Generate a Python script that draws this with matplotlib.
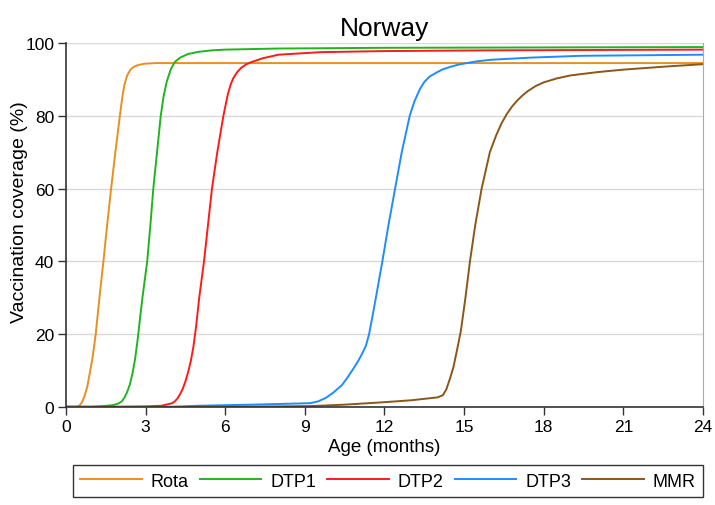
import matplotlib
matplotlib.use('Agg')
import matplotlib.pyplot as plt

# values (age in months, coverage in %)
rota_age = [0, 0.4, 0.5, 0.6, 0.7, 0.8, 0.9, 1.0, 1.12, 1.26, 1.41, 1.55, 1.70, 1.86,
            2.03, 2.12, 2.2, 2.3, 2.41, 2.52, 2.65, 2.8, 3.0, 3.4, 24]
rota_cov = [0, 0, 0.3, 1.2, 3, 5.5, 9.4, 13.5, 20, 30, 40, 50, 60, 70,
            80, 85, 88.5, 91, 92.5, 93.3, 93.8, 94.1, 94.35, 94.5, 94.5]

dtp1_age = [0, 1.0, 1.4, 1.8, 2.0, 2.1, 2.2, 2.3, 2.4, 2.5, 2.6, 2.7, 2.8, 2.88, 3.06,
            3.18, 3.29, 3.43, 3.57, 3.68, 3.8, 3.95, 4.1, 4.3, 4.6, 5.0, 5.5, 6.0, 8, 12, 24]
dtp1_cov = [0, 0, 0.2, 0.5, 1.0, 1.5, 2.5, 4, 6, 9, 13, 18.5, 25, 30, 40,
            50, 60, 70, 80, 85.5, 89.5, 92.8, 94.8, 96, 97, 97.6, 98, 98.2, 98.5, 98.7, 98.9]

dtp2_age = [0, 2.0, 3.0, 3.6, 4.0, 4.1, 4.2, 4.3, 4.4, 4.5, 4.6, 4.7, 4.8, 4.9, 5.02,
            5.2, 5.35, 5.5, 5.7, 5.93, 6.1, 6.2, 6.3, 6.45, 6.6, 6.8, 7.0, 7.4, 8.0,
            9.6, 12, 16, 24]
dtp2_cov = [0, 0, 0.1, 0.3, 1.0, 1.5, 2.3, 3.5, 5, 7, 9.5, 12.5, 16.5, 22, 30,
            40, 50, 60, 70, 80, 86, 88.5, 90.3, 92, 93.2, 94.2, 94.8, 95.8, 96.8,
            97.5, 97.8, 98.0, 98.2]

dtp3_age = [0, 4.0, 5.0, 7.0, 9.2, 9.5, 9.8, 10.07, 10.4, 10.6, 10.82, 11.0, 11.15, 11.3,
            11.42, 11.55, 11.7, 11.92, 12.15, 12.4, 12.65, 12.95, 13.13, 13.33, 13.5, 13.7,
            13.96, 14.2, 14.5, 14.8, 15.1, 15.5, 16, 17.5, 19.4, 24]
dtp3_cov = [0, 0, 0.3, 0.6, 1.0, 1.5, 2.5, 3.9, 6, 8, 10.4, 12.5, 14.5, 16.8,
            20, 25, 31, 40, 50, 60, 70, 80, 84, 87.3, 89.3, 90.8,
            91.9, 92.8, 93.5, 94.1, 94.5, 95, 95.4, 96, 96.5, 96.8]

mmr_age = [0, 6.0, 9.2, 10.5, 11.83, 13.0, 14.0, 14.2, 14.33, 14.46, 14.6, 14.73, 14.88,
           15.05, 15.22, 15.42, 15.66, 15.97, 16.2, 16.4, 16.6, 16.8, 17.0, 17.2, 17.4,
           17.7, 18.0, 18.5, 19.0, 20, 21, 22.5, 24]
mmr_cov = [0, 0, 0.2, 0.6, 1.2, 1.8, 2.6, 3.2, 4.8, 7.6, 11, 15.5, 21,
           30, 40, 50, 60, 70, 74.5, 77.8, 80.4, 82.5, 84.2, 85.6, 86.8,
           88.2, 89.2, 90.3, 91.1, 92, 92.7, 93.5, 94.2]

series = [
    ("Rota", rota_age, rota_cov, '#E8901F'),
    ("DTP1", dtp1_age, dtp1_cov, '#1FB51F'),
    ("DTP2", dtp2_age, dtp2_cov, '#FF1A1A'),
    ("DTP3", dtp3_age, dtp3_cov, '#1E8CFF'),
    ("MMR", mmr_age, mmr_cov, '#8B5719'),
]

x_ticks = [0, 3, 6, 9, 12, 15, 18, 21, 24]
y_ticks = [0, 20, 40, 60, 80, 100]

plt.rcParams['font.family'] = ['Liberation Sans', 'DejaVu Sans']

fig = plt.figure(figsize=(7.15, 5.06), dpi=100)
ax = fig.add_axes([0.0923, 0.194, 0.8909, 0.7189])

for name, xs, ys, col in series:
    ax.plot(xs, ys, color=col, linewidth=1.4, label=name,
            solid_joinstyle='round')

ax.set_xlim(0, 24)
ax.set_ylim(0, 100)
ax.set_xticks(x_ticks)
ax.set_yticks(y_ticks)
ax.grid(True, axis='y', color='#d9d9d9', linewidth=1.0)
ax.set_axisbelow(True)
ax.tick_params(labelsize=12.5, length=5.5, width=1, color='#333333', pad=3)

ax.spines['top'].set_visible(False)
ax.spines['right'].set_color('#aaaaaa')
ax.spines['left'].set_color('#333333')
ax.spines['bottom'].set_color('#333333')
ax.spines['left'].set_linewidth(1.2)
ax.spines['bottom'].set_linewidth(1.2)

ax.set_title("Norway", fontsize=19, pad=6)
ax.set_xlabel("Age (months)", fontsize=13.5, labelpad=3)
ax.set_ylabel("Vaccination coverage (%)", fontsize=14)
ax.yaxis.set_label_coords(-0.06, 0.537)

leg = fig.legend(loc='center', ncol=5, mode='expand',
                 bbox_to_anchor=(0.102, 0.012, 0.881, 0.07),
                 fontsize=13, handlelength=3.4, handletextpad=0.5,
                 fancybox=False, edgecolor='#333333', framealpha=1,
                 borderaxespad=0)
leg.get_frame().set_linewidth(1.0)

plt.savefig("out.png", dpi=100)
